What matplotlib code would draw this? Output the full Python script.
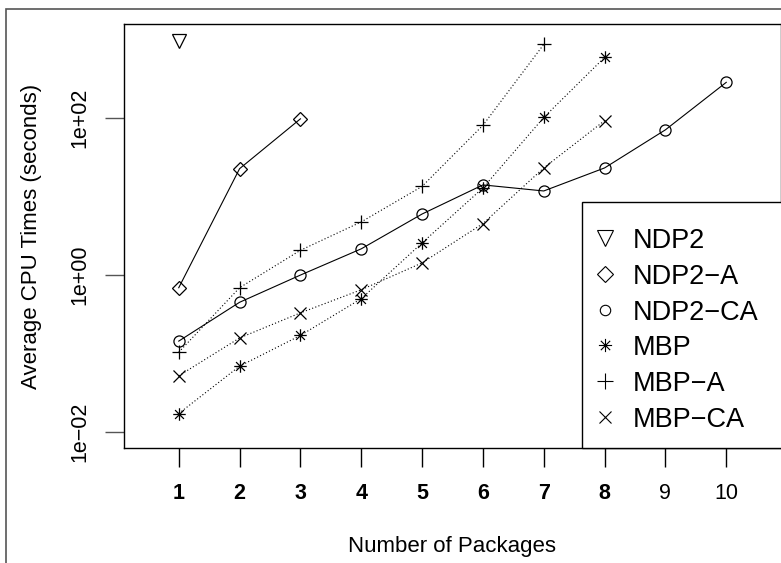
import numpy as np
import matplotlib.pyplot as plt
from matplotlib.path import Path
from matplotlib.patches import Rectangle

plt.rcParams['font.family'] = ['Liberation Sans', 'DejaVu Sans']

# values (seconds)
ndp2 = [950]
ndp2_a = [0.69, 22.7, 98]
ndp2_ca = [0.144, 0.45, 1.0, 2.16, 6.0, 14.1, 11.8, 23.2, 71, 286]
mbp = [0.0172, 0.069, 0.17, 0.50, 2.57, 12.9, 102, 595]
mbp_a = [0.104, 0.69, 2.07, 4.76, 13.5, 81, 871]
mbp_ca = [0.052, 0.158, 0.33, 0.65, 1.43, 4.53, 23.2, 93]

labels = ["NDP2", "NDP2\u2212A", "NDP2\u2212CA", "MBP", "MBP\u2212A", "MBP\u2212CA"]
ytick_vals = [1e-2, 1, 1e2]
ytick_text = ["1e\u221202", "1e+00", "1e+02"]

# R's pch 8: plus and cross on top of each other
a = 0.707
star = Path([(-1, 0), (1, 0), (0, -1), (0, 1), (-a, -a), (a, a), (-a, a), (a, -a)],
            [Path.MOVETO, Path.LINETO] * 4)

series = [ndp2, ndp2_a, ndp2_ca, mbp, mbp_a, mbp_ca]
markers = ['v', 'D', 'o', star, '+', 'x']
msizes = [10, 7, 8, 9, 10, 8]
leg_sizes = [11, 8.5, 7.5, 9.5, 11, 8.5]
styles = ['-', '-', '-', (0, (1, 2)), (0, (1, 2)), (0, (1, 2))]

W, H = 781, 563
fig = plt.figure(figsize=(W / 100, H / 100), dpi=100)
ax_l, ax_t, ax_b = 124, 24, 448
ax = fig.add_axes([ax_l / W, 1 - ax_b / H, 1 - ax_l / W, (ax_b - ax_t) / H])

for vals, m, ms, ls in zip(series, markers, msizes, styles):
    x = np.arange(1, len(vals) + 1)
    ax.plot(x, vals, linestyle=ls, color='black', lw=0.8,
            marker=m, ms=ms, mfc='none', mec='black', mew=0.9)

ax.set_yscale('log')
ax.set_xlim(0.1, 10.9)
ax.set_ylim(10 ** -2.204, 10 ** 3.2)
ax.set_xticks(range(1, 11))
ax.set_xticklabels([str(i) for i in range(1, 11)], fontsize=15.5)
for i, t in enumerate(ax.get_xticklabels()):
    if i < 8:
        t.set_fontweight('bold')
ax.set_yticks(ytick_vals)
ax.set_yticklabels(ytick_text, fontsize=15.5, rotation=90, va='center')
ax.minorticks_off()
ax.tick_params(axis='x', length=14, width=1, pad=11)
ax.tick_params(axis='y', length=14, width=1, pad=10, color='#555555')
for s in ax.spines.values():
    s.set_linewidth(1)

ax.set_xlabel("Number of Packages", fontsize=16, labelpad=23)
ax.set_ylabel("Average CPU Times (seconds)", fontsize=16, labelpad=20)

# legend box, drawn in axes fractions
aw, ah = W - ax_l, ax_b - ax_t
box_l, box_t = 581.5, 201.5
ax.add_patch(Rectangle(((box_l - ax_l) / aw, 0), 1.5, (ax_b - box_t) / ah,
                       transform=ax.transAxes, facecolor='white',
                       edgecolor='black', lw=1, zorder=5, clip_on=False))
for i, (lab, m, ms) in enumerate(zip(labels, markers, leg_sizes)):
    yy = (ax_b - (238 + 35.8 * i)) / ah
    ax.plot([(605 - ax_l) / aw], [yy], transform=ax.transAxes, linestyle='none',
            marker=m, ms=ms, mfc='none', mec='black', mew=0.8, zorder=6,
            clip_on=False)
    ax.text((633 - ax_l) / aw, yy, lab, transform=ax.transAxes, fontsize=19.5,
            va='center_baseline', ha='left', zorder=6)

# outer frame of the figure region
fig.patches.append(Rectangle((6 / W, -0.1), 1.2, 1 - 9 / H + 0.1,
                             transform=fig.transFigure, fill=False,
                             edgecolor='#555555', lw=1.2))

fig.savefig("out.png", dpi=100)
